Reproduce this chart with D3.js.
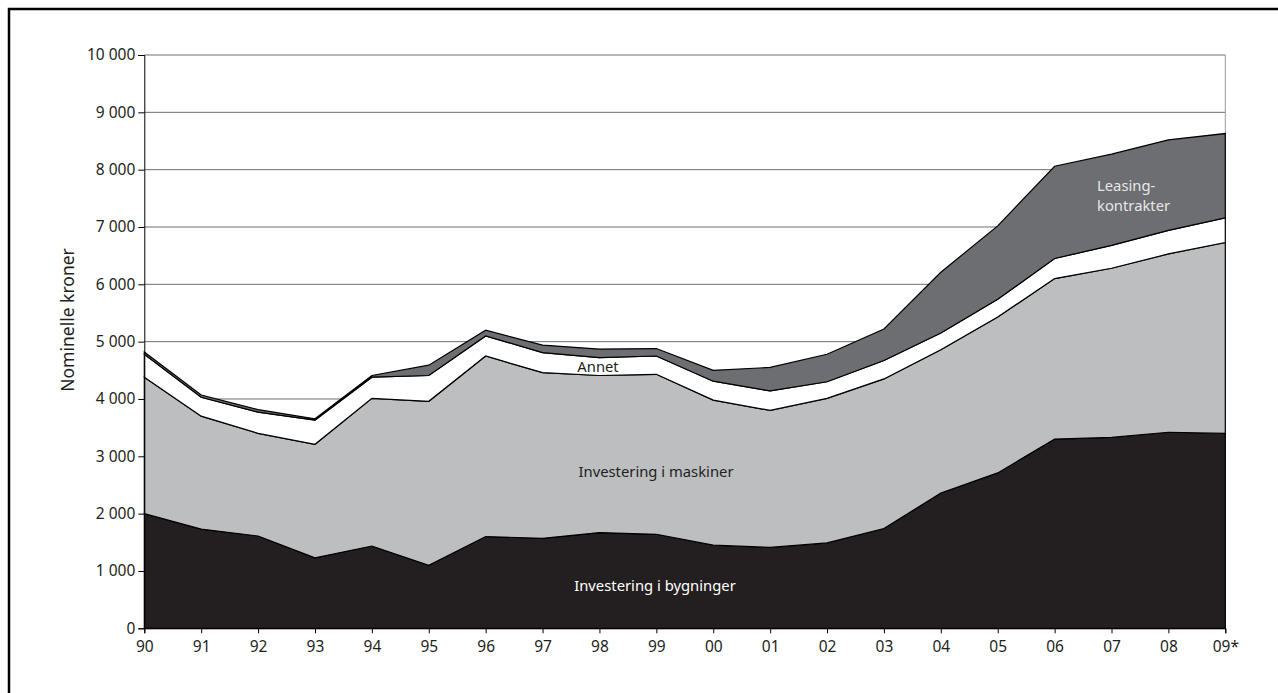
<!DOCTYPE html>
<html>
<head>
<meta charset="utf-8">
<script src="https://cdn.jsdelivr.net/npm/d3@7"></script>
<style>
  html, body { margin: 0; padding: 0; background: #fff; }
  svg { display: block; }
  text { font-family: "Noto Sans", "Open Sans", sans-serif; }
</style>
</head>
<body>
<svg id="chart" width="1278" height="693"></svg>
<script>
// ---- data ----
const years = ["90","91","92","93","94","95","96","97","98","99","00","01","02","03","04","05","06","07","08","09*"];
const bygninger = [2000,1730,1610,1230,1435,1100,1600,1570,1670,1640,1450,1410,1490,1740,2360,2710,3300,3330,3420,3400];
const maskiner  = [2380,1970,1790,1980,2575,2860,3150,2890,2740,2790,2530,2390,2520,2610,2500,2720,2800,2950,3110,3330];
const annet     = [400,330,370,420,370,450,350,350,310,320,330,340,290,320,290,310,350,400,410,430];
const leasing   = [40,40,45,25,30,180,100,130,150,130,190,410,480,550,1060,1280,1610,1590,1580,1470];
const yTicks = [0,1000,2000,3000,4000,5000,6000,7000,8000,9000,10000];
const seriesKeys = ["bygninger","maskiner","annet","leasing"];
const seriesColors = ["#231f20","#bcbec0","#ffffff","#6d6e71"];

const rows = years.map((yr,i) => ({year:yr, bygninger:bygninger[i], maskiner:maskiner[i], annet:annet[i], leasing:leasing[i]}));

const svg = d3.select("#chart");
const plotLeft = 144.3, plotRight = 1225.3, plotTop = 55, plotBottom = 628.3;

const x = d3.scalePoint().domain(years).range([plotLeft, plotRight]);
const y = d3.scaleLinear().domain([0, 10000]).range([plotBottom, plotTop]);

// outer frame
svg.append("path")
  .attr("d", `M9,700 L9,9 L1290,9`)
  .attr("fill","none").attr("stroke","#000").attr("stroke-width",2.5);

// gridlines
svg.append("g").selectAll("line").data(yTicks.filter(d => d > 0)).join("line")
  .attr("x1", plotLeft).attr("x2", plotRight)
  .attr("y1", d => y(d)).attr("y2", d => y(d))
  .attr("stroke", "#6d6e71").attr("stroke-width", 1);

// right plot edge
svg.append("line").attr("x1", plotRight).attr("x2", plotRight).attr("y1", plotTop).attr("y2", plotBottom)
  .attr("stroke", "#9a9a9a").attr("stroke-width", 1);

// stacked areas
const stacked = d3.stack().keys(seriesKeys)(rows);
const area = d3.area()
  .x(d => x(d.data.year))
  .y0(d => y(d[0]))
  .y1(d => y(d[1]));

svg.append("g").selectAll("path").data(stacked).join("path")
  .attr("d", area)
  .attr("fill", (d,i) => seriesColors[i])
  .attr("stroke", "#000")
  .attr("stroke-width", 1.2)
  .attr("stroke-linejoin", "miter");

// axes
const yAxis = d3.axisLeft(y).tickValues(yTicks).tickSize(6).tickPadding(3)
  .tickFormat(d => d >= 1000 ? `${Math.floor(d/1000)} 000` : `${d}`);
const gy = svg.append("g").attr("transform", `translate(${plotLeft},0)`).call(yAxis);
gy.selectAll("text").attr("font-size", 15.5).attr("fill", "#231f20")
  .attr("font-family", "'Noto Sans', sans-serif");
gy.select(".domain").attr("stroke", "#000");
gy.selectAll(".tick line").attr("stroke", "#000");

const xAxis = d3.axisBottom(x).tickSize(5).tickPadding(8);
const gx = svg.append("g").attr("transform", `translate(0,${plotBottom})`).call(xAxis);
gx.selectAll("text").attr("font-size", 15.5).attr("fill", "#231f20")
  .attr("font-family", "'Noto Sans', sans-serif");
gx.select(".domain").attr("stroke", "#000");
gx.selectAll(".tick line").attr("stroke", "#000");

// y-axis title
svg.append("text")
  .attr("transform", `translate(74,320) rotate(-90)`)
  .attr("text-anchor", "middle")
  .attr("font-size", 17.5).attr("fill", "#231f20")
  .text("Nominelle kroner");

// in-chart labels
svg.append("text").attr("x", 655).attr("y", 591).attr("text-anchor","middle")
  .attr("font-size", 14.8).attr("fill", "#ffffff").text("Investering i bygninger");
svg.append("text").attr("x", 656).attr("y", 477).attr("text-anchor","middle")
  .attr("font-size", 14.8).attr("fill", "#231f20").text("Investering i maskiner");
svg.append("text").attr("x", 598).attr("y", 372).attr("text-anchor","middle")
  .attr("font-size", 14.8).attr("fill", "#231f20").text("Annet");
svg.append("text").attr("x", 1097).attr("y", 191)
  .attr("font-size", 14.8).attr("fill", "#e6e7e8").text("Leasing-");
svg.append("text").attr("x", 1097).attr("y", 211)
  .attr("font-size", 14.8).attr("fill", "#e6e7e8").text("kontrakter");
</script>
</body>
</html>
